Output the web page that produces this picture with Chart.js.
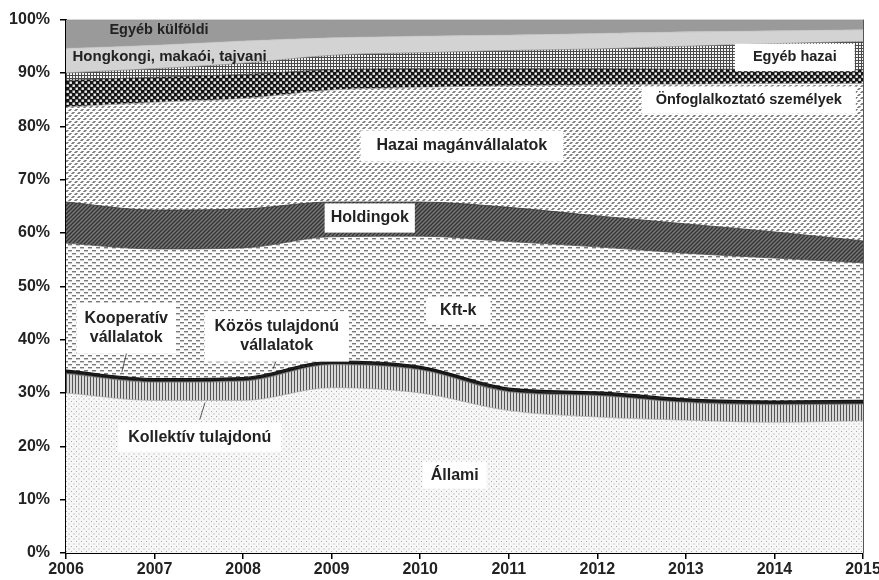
<!DOCTYPE html>
<html>
<head>
<meta charset="utf-8">
<script src="https://cdn.jsdelivr.net/npm/chart.js@4/dist/chart.umd.min.js"></script>
<style>
  body { margin: 0; background: #fff; }
  canvas { display: block; }
</style>
</head>
<body>
<canvas id="grafico" width="879" height="580"></canvas>
<script>
// evek
const evek = ["2006", "2007", "2008", "2009", "2010", "2011", "2012", "2013", "2014", "2015"];
// y tengely osztasok
const yTicks = [0, 10, 20, 30, 40, 50, 60, 70, 80, 90, 100];

// reszesedesek (%), alulrol felfele
const allami = [30.0, 28.6, 28.6, 31.0, 30.0, 26.7, 25.5, 24.9, 24.5, 24.8];
const kollektiv = [3.6, 3.4, 3.6, 4.3, 4.3, 3.5, 4.0, 3.3, 3.3, 3.1];
const kooperativ = [0.3, 0.3, 0.3, 0.3, 0.3, 0.3, 0.3, 0.3, 0.3, 0.3];
const kozos = [0.4, 0.4, 0.4, 0.4, 0.4, 0.4, 0.4, 0.4, 0.4, 0.4];
const kftk = [23.8, 24.3, 24.3, 23.3, 24.4, 27.5, 27.2, 27.3, 26.8, 25.8];
const holdingok = [7.7, 7.3, 7.3, 6.5, 6.4, 6.4, 5.8, 5.5, 4.9, 4.1];
const hazaiMagan = [17.8, 20.2, 20.7, 21.0, 21.5, 22.8, 24.6, 26.2, 27.8, 29.5];
const onfoglalkoztato = [5.0, 4.7, 4.5, 3.8, 3.5, 3.2, 3.0, 2.8, 2.7, 2.6];
const egyebHazai = [1.4, 1.6, 2.1, 2.7, 3.0, 3.4, 3.7, 4.3, 4.8, 5.3];
const hongkongi = [4.6, 4.4, 4.2, 3.3, 3.1, 2.9, 2.9, 2.7, 2.4, 2.2];
const egyebKulfoldi = [5.4, 4.8, 4.0, 3.4, 3.1, 2.9, 2.6, 2.3, 2.1, 1.9];

const FONT = "'Liberation Sans', Arial, sans-serif";

// mintak keszitese
function minta(w, h, rajz) {
  const c = document.createElement("canvas");
  c.width = w;
  c.height = h;
  const ctx = c.getContext("2d");
  rajz(ctx, w, h);
  return document.getElementById("grafico").getContext("2d").createPattern(c, "repeat");
}

const pAllami = minta(5, 5, (ctx, w, h) => {
  ctx.fillStyle = "#f7f7f7";
  ctx.fillRect(0, 0, w, h);
  ctx.fillStyle = "#a8a8a8";
  ctx.fillRect(1, 1, 1, 1);
  ctx.fillRect(3.5, 3.5, 1, 1);
});
const pKollektiv = minta(3, 3, (ctx, w, h) => {
  ctx.fillStyle = "#d8d8d8";
  ctx.fillRect(0, 0, w, h);
  ctx.fillStyle = "#555";
  ctx.fillRect(0, 0, 1, h);
});
const pKft = minta(8, 6, (ctx, w, h) => {
  ctx.fillStyle = "#fbfbfb";
  ctx.fillRect(0, 0, w, h);
  ctx.fillStyle = "#7a7a7a";
  ctx.fillRect(0, 1, 4, 1.4);
  ctx.fillRect(4, 4, 4, 1.4);
});
const pHolding = minta(4, 4, (ctx, w, h) => {
  ctx.fillStyle = "#777";
  ctx.fillRect(0, 0, w, h);
  ctx.strokeStyle = "#333";
  ctx.lineWidth = 1.3;
  ctx.beginPath();
  ctx.moveTo(-1, 5); ctx.lineTo(5, -1);
  ctx.moveTo(-1, 1); ctx.lineTo(1, -1);
  ctx.moveTo(3, 5); ctx.lineTo(5, 3);
  ctx.stroke();
});
const pHazai = minta(6, 6, (ctx, w, h) => {
  ctx.fillStyle = "#fff";
  ctx.fillRect(0, 0, w, h);
  ctx.strokeStyle = "#777";
  ctx.lineWidth = 1.7;
  ctx.beginPath();
  ctx.moveTo(-1, 7); ctx.lineTo(7, -1);
  ctx.moveTo(-1, 1); ctx.lineTo(1, -1);
  ctx.moveTo(5, 7); ctx.lineTo(7, 5);
  ctx.stroke();
  ctx.fillStyle = "#fff";
  ctx.fillRect(0, 0, w, 1);
  ctx.fillRect(0, 3, w, 1);
});
const pOnfogl = minta(6, 6, (ctx, w, h) => {
  ctx.fillStyle = "#151515";
  ctx.fillRect(0, 0, w, h);
  ctx.fillStyle = "#f2f2f2";
  ctx.fillRect(0.5, 0.5, 2.4, 2.4);
  ctx.fillRect(3.5, 3.5, 2.4, 2.4);
});
const pEgyebHazai = minta(3, 3, (ctx, w, h) => {
  ctx.fillStyle = "#f4f4f4";
  ctx.fillRect(0, 0, w, h);
  ctx.fillStyle = "#4a4a4a";
  ctx.fillRect(0, 0, w, 1);
  ctx.fillRect(0, 0, 1, h);
});

function sor(label, data, bg, border, bw) {
  return {
    label: label,
    data: data,
    backgroundColor: bg,
    borderColor: border,
    borderWidth: bw,
    fill: "-1",
    pointRadius: 0,
    cubicInterpolationMode: "monotone",
  };
}

const datasets = [
  sor("Állami", allami, pAllami, "#999", 0.6),
  sor("Kollektív tulajdonú", kollektiv, pKollektiv, "#666", 0.6),
  sor("Kooperatív vállalatok", kooperativ, "#555", "#111", 1.2),
  sor("Közös tulajdonú vállalatok", kozos, "#222", "#111", 1.2),
  sor("Kft-k", kftk, pKft, "#444", 0.8),
  sor("Holdingok", holdingok, pHolding, "#333", 0.8),
  sor("Hazai magánvállalatok", hazaiMagan, pHazai, "#888", 0.6),
  sor("Önfoglalkoztató személyek", onfoglalkoztato, pOnfogl, "#222", 0.6),
  sor("Egyéb hazai", egyebHazai, pEgyebHazai, "#777", 0.6),
  sor("Hongkongi, makaói, tajvani", hongkongi, "#d3d3d3", "#bbb", 0.6),
  sor("Egyéb külföldi", egyebKulfoldi, "#9a9a9a", "#888", 0.6),
];
datasets[0].fill = "origin";

// feliratok (x: ev index, y: %)
const feliratok = [
  { sorok: ["Egyéb külföldi"], x: 1.05, y: 98.1, meret: 14.5, doboz: false },
  { sorok: ["Hongkongi, makaói, tajvani"], x: 1.17, y: 93.1, meret: 15, doboz: false },
  { sorok: ["Egyéb hazai"], x: 8.23, y: 92.9, meret: 14.5, doboz: true, px: 18, py: 5 },
  { sorok: ["Önfoglalkoztató személyek"], x: 7.71, y: 84.9, meret: 14.5, doboz: true, px: 14, py: 5 },
  { sorok: ["Hazai magánvállalatok"], x: 4.47, y: 76.3, meret: 16, doboz: true, px: 16, py: 6 },
  { sorok: ["Holdingok"], x: 3.43, y: 62.8, meret: 16, doboz: true, px: 6, py: 5 },
  { sorok: ["Kft-k"], x: 4.43, y: 45.4, meret: 16, doboz: true, px: 14, py: 4 },
  { sorok: ["Kooperatív", "vállalatok"], x: 0.68, y: 42.1, meret: 16, doboz: true, px: 8, py: 6 },
  { sorok: ["Közös tulajdonú", "vállalatok"], x: 2.38, y: 40.6, meret: 16, doboz: true, px: 10, py: 6 },
  { sorok: ["Kollektív tulajdonú"], x: 1.51, y: 21.7, meret: 16, doboz: true, px: 10, py: 5 },
  { sorok: ["Állami"], x: 4.39, y: 14.6, meret: 16, doboz: true, px: 8, py: 4 },
];
// mutato vonalak
const mutatok = [
  [0.69, 37.9, 0.63, 33.9],
  [2.38, 36.4, 2.34, 34.6],
  [1.57, 28.2, 1.51, 25.0],
];

const feliratPlugin = {
  id: "feliratok",
  afterDatasetsDraw(chart) {
    const ctx = chart.ctx;
    const xs = chart.scales.x;
    const ys = chart.scales.y;
    const area = chart.chartArea;
    ctx.save();
    // jobb oldali keret
    ctx.strokeStyle = "#555";
    ctx.lineWidth = 1;
    ctx.beginPath();
    ctx.moveTo(area.right + 0.5, area.top);
    ctx.lineTo(area.right + 0.5, area.bottom);
    ctx.stroke();

    ctx.strokeStyle = "#333";
    ctx.lineWidth = 0.8;
    mutatok.forEach((m) => {
      ctx.beginPath();
      ctx.moveTo(xs.getPixelForValue(m[0]), ys.getPixelForValue(m[1]));
      ctx.lineTo(xs.getPixelForValue(m[2]), ys.getPixelForValue(m[3]));
      ctx.stroke();
    });

    ctx.textAlign = "center";
    ctx.textBaseline = "middle";
    feliratok.forEach((f) => {
      ctx.font = "bold " + f.meret + "px " + FONT;
      const cx = xs.getPixelForValue(f.x);
      const cy = ys.getPixelForValue(f.y);
      const lh = f.meret * 1.2;
      const w = Math.max(...f.sorok.map((s) => ctx.measureText(s).width));
      const h = lh * f.sorok.length;
      if (f.doboz) {
        ctx.fillStyle = "#fff";
        ctx.fillRect(cx - w / 2 - f.px, cy - h / 2 - f.py, w + 2 * f.px, h + 2 * f.py);
      }
      ctx.fillStyle = "#222";
      f.sorok.forEach((s, i) => {
        ctx.fillText(s, cx, cy - h / 2 + lh * (i + 0.5));
      });
    });
    ctx.restore();
  },
};

new Chart("grafico", {
  type: "line",
  data: { labels: evek, datasets: datasets },
  options: {
    responsive: false,
    animation: false,
    layout: { padding: { top: 18, right: 16, left: 0, bottom: 0 } },
    plugins: { legend: { display: false }, tooltip: { enabled: false } },
    scales: {
      x: {
        offset: false,
        grid: { display: true, drawOnChartArea: false, tickLength: 6, color: "#000", lineWidth: 1.5 },
        border: { color: "#000", width: 2 },
        ticks: { color: "#222", font: { family: FONT, size: 16, weight: "bold" }, padding: 1, maxRotation: 0, autoSkip: false },
        afterFit(scale) {
          scale.height = 27;
          scale.paddingLeft = 0;
          scale.paddingRight = 0;
        },
      },
      y: {
        stacked: true,
        min: 0,
        max: 100,
        afterBuildTicks(scale) {
          scale.ticks = yTicks.map((v) => ({ value: v }));
        },
        grid: { display: true, drawOnChartArea: false, tickLength: 6, color: "#000", lineWidth: 1.5 },
        border: { color: "#000", width: 2 },
        ticks: {
          color: "#222",
          font: { family: FONT, size: 16, weight: "bold" },
          padding: 10,
          callback: (v) => v + "%",
        },
        afterFit(scale) {
          scale.width = 66;
        },
      },
    },
  },
  plugins: [feliratPlugin],
});
</script>
</body>
</html>
